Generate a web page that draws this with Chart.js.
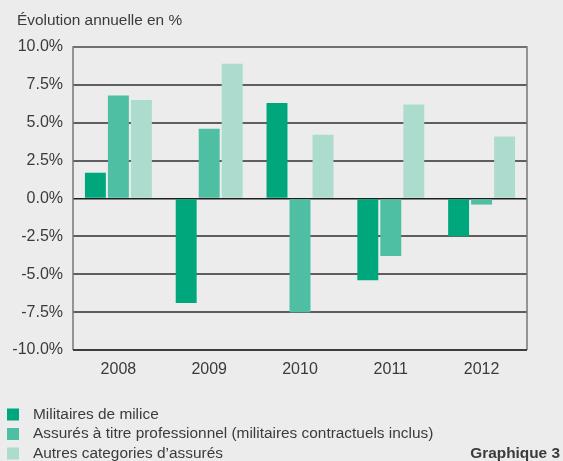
<!DOCTYPE html>
<html>
<head>
<meta charset="utf-8">
<script src="https://cdn.jsdelivr.net/npm/chart.js@4.4.1/dist/chart.umd.min.js"></script>
<style>
  html, body { margin: 0; padding: 0; background: #ebeceb; }
  #wrap { width: 563px; height: 461px; }
</style>
</head>
<body>
<div id="wrap"><canvas id="barChart"></canvas></div>
<script>
// annual change in %, per category of insured
const years = ["2008", "2009", "2010", "2011", "2012"];
const milice = [1.7, -6.9, 6.3, -5.4, -2.5];
const professionnel = [6.8, 4.6, -7.5, -3.8, -0.4];
const autres = [6.5, 8.9, 4.2, 6.2, 4.1];

const seriesNames = [
  "Militaires de milice",
  "Assurés à titre professionnel (militaires contractuels inclus)",
  "Autres categories d\u2019assurés",
];
const seriesColors = ["#00a77d", "#4ebfa3", "#abdccd"];
const yTickValues = [-10, -7.5, -5, -2.5, 0, 2.5, 5, 7.5, 10];

const titleText = "Évolution annuelle en %";
const captionText = "Graphique 3";

const FONT = "'Liberation Sans', Arial, sans-serif";
const TEXT = "#3b3b3b";

// title, frame, legend and caption
const extras = {
  id: "extras",
  beforeDatasetsDraw(chart) {
    const { ctx, chartArea: a } = chart;
    ctx.save();
    ctx.lineWidth = 1.5;
    ctx.strokeStyle = "#777";
    ctx.beginPath();
    ctx.moveTo(a.left, a.bottom);
    ctx.lineTo(a.left, a.top);
    ctx.lineTo(a.right, a.top);
    ctx.lineTo(a.right, a.bottom);
    ctx.stroke();
    ctx.strokeStyle = "#333";
    ctx.beginPath();
    ctx.moveTo(a.left, a.bottom);
    ctx.lineTo(a.right, a.bottom);
    ctx.stroke();
    ctx.restore();
  },
  afterDraw(chart) {
    const ctx = chart.ctx;
    ctx.save();
    ctx.fillStyle = TEXT;
    ctx.textBaseline = "middle";
    ctx.font = "15.4px " + FONT;
    ctx.fillText(titleText, 17, 21);

    chart.data.datasets.forEach((ds, i) => {
      const y = 414.5 + i * 19.5;
      ctx.fillStyle = ds.backgroundColor;
      ctx.fillRect(7, y - 6, 12, 12);
      ctx.fillStyle = TEXT;
      ctx.fillText(ds.label, 33, y);
    });

    ctx.font = "bold 15.4px " + FONT;
    ctx.textAlign = "right";
    ctx.fillText(captionText, 560, 454);
    ctx.restore();
  },
};

const ctr = document.getElementById("barChart");

const barChart = new Chart(ctr, {
  type: "bar",
  data: {
    labels: years,
    datasets: [milice, professionnel, autres].map((values, i) => ({
      label: seriesNames[i],
      data: values,
      backgroundColor: seriesColors[i],
      borderWidth: 0,
      barPercentage: 0.91,
      categoryPercentage: 0.76,
    })),
  },
  options: {
    responsive: true,
    maintainAspectRatio: false,
    animation: false,
    layout: {
      padding: { top: 47, right: 36, bottom: 0, left: 0 },
    },
    plugins: {
      legend: { display: false },
      tooltip: { enabled: false },
    },
    scales: {
      x: {
        grid: { display: false, drawTicks: false },
        border: { display: false },
        ticks: {
          color: TEXT,
          font: { family: FONT, size: 16 },
          padding: 10,
        },
        afterFit: (scale) => { scale.height = 111; },
      },
      y: {
        min: -10,
        max: 10,
        afterBuildTicks: (scale) => {
          scale.ticks = yTickValues.map((v) => ({ value: v }));
        },
        grid: {
          drawTicks: false,
          color: (c) => (c.tick && c.tick.value === 0 ? "#1e1e1e" : "#5e5e5e"),
          lineWidth: (c) => (c.tick && c.tick.value === 0 ? 1.5 : 2),
        },
        border: { display: false },
        ticks: {
          color: TEXT,
          font: { family: FONT, size: 16 },
          padding: 10,
          callback: (v) => v.toFixed(1) + "%",
        },
        afterFit: (scale) => { scale.width = 73; },
      },
    },
  },
  plugins: [extras],
});
</script>
</body>
</html>
